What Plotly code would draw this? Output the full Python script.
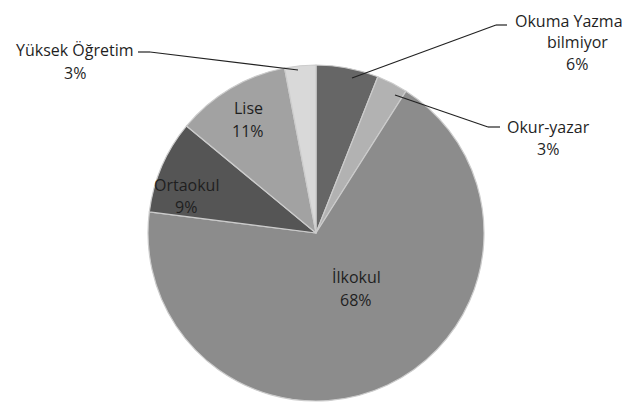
import plotly.graph_objects as go

labels = ["Okuma Yazma bilmiyor", "Okur-yazar", "İlkokul", "Ortaokul", "Lise", "Yüksek Öğretim"]
values = [6, 3, 68, 9, 11, 3]
colors = ["#666666", "#b2b2b2", "#8c8c8c", "#555555", "#a2a2a2", "#d9d9d9"]

W, H = 635, 403
OFF = 8  # page body margin offsets the figure by 8px
cx, cy, r = 316 - OFF, 233 - OFF, 168

fig = go.Figure(go.Pie(
    labels=labels,
    values=values,
    sort=False,
    direction="clockwise",
    rotation=0,
    marker=dict(colors=colors, line=dict(color="#cccccc", width=1.2)),
    textinfo="none",
    showlegend=False,
    hoverinfo="label+percent",
    domain=dict(x=[(cx - r) / W, (cx + r) / W], y=[(H - cy - r) / H, (H - cy + r) / H]),
))

def px(x):
    return (x - OFF) / W

def py(y):
    return 1 - (y - OFF) / H

font = dict(family="Open Sans", size=16, color="#1f1f1f")

label_lines = {
    "Okuma Yazma bilmiyor": (["Okuma Yazma", "bilmiyor"], 569, 21),
    "Okur-yazar": (["Okur-yazar"], 548, 127),
    "İlkokul": (["İlkokul"], 356, 277),
    "Ortaokul": (["Ortaokul"], 186, 185),
    "Lise": (["Lise"], 248, 108),
    "Yüksek Öğretim": (["Yüksek Öğretim"], 75, 50),
}
for lab, v in zip(labels, values):
    lines_, x, y = label_lines[lab]
    step = 21.5 if lab == "Okuma Yazma bilmiyor" else 22.5
    texts = lines_ + [f"{v}%"]
    for i, t in enumerate(texts):
        xi = x + (8 if (i > 0 and lab == "Okuma Yazma bilmiyor") else 0)
        fig.add_annotation(text=t, x=px(xi), y=py(y + i * step), xref="paper", yref="paper",
                           showarrow=False, font=font, xanchor="center", yanchor="middle")

lines = [
    [(507, 25), (496, 25), (352, 78)],
    [(500, 127), (488, 127), (395, 95)],
    [(138, 52), (150, 52), (298, 70)],
]
for pts in lines:
    for (x0, y0), (x1, y1) in zip(pts[:-1], pts[1:]):
        fig.add_shape(type="line", xref="paper", yref="paper",
                      x0=px(x0), y0=py(y0), x1=px(x1), y1=py(y1),
                      line=dict(color="#222222", width=1.2))

fig.update_layout(
    width=W, height=H,
    margin=dict(l=0, r=0, t=0, b=0),
    paper_bgcolor="white",
    plot_bgcolor="white",
)

fig.write_html("out.html")
